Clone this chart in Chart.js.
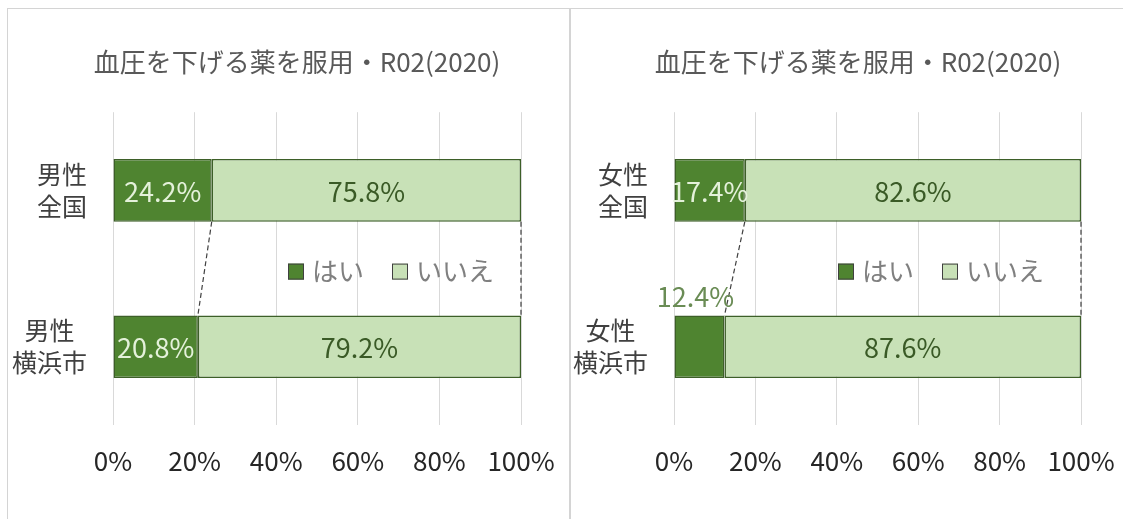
<!DOCTYPE html>
<html lang="ja">
<head>
  <meta charset="UTF-8">
  <title>血圧を下げる薬を服用・R02(2020)</title>
  <script src="https://cdn.jsdelivr.net/npm/chart.js@4.4.1/dist/chart.umd.min.js"></script>
  <style>
    body { margin: 0; background: #fff; width: 1123px; height: 519px; overflow: hidden; position: relative; }
    .panel { position: absolute; top: 8px; height: 520px; border-top: 1px solid #d4d4d4; border-left: 1px solid #d4d4d4; }
    #panelL { left: 7px; width: 561px; border-right: 1px solid #d4d4d4; }
    #panelR { left: 570px; width: 553px; }
    canvas { position: absolute; top: 9px; }
    #chartL { left: 8px; }
    #chartR { left: 571px; }
  </style>
</head>
<body>
  <div class="panel" id="panelL"></div>
  <div class="panel" id="panelR"></div>
  <canvas id="chartL" width="560" height="510"></canvas>
  <canvas id="chartR" width="552" height="510"></canvas>
  <script>
    const chartTitle = '血圧を下げる薬を服用・R02(2020)';
    const seriesNames = ['はい', 'いいえ'];
    const tickLabels = ['0%', '20%', '40%', '60%', '80%', '100%'];

    const maleCategories = [['男性', '全国'], ['男性', '横浜市']];
    const maleYes = [24.2, 20.8];
    const maleNo = [75.8, 79.2];

    const femaleCategories = [['女性', '全国'], ['女性', '横浜市']];
    const femaleYes = [17.4, 12.4];
    const femaleNo = [82.6, 87.6];

    const FONT = '"Noto Sans CJK JP", "Noto Sans", sans-serif';
    const DARK = '#4f8430';
    const LIGHT = '#c8e1b7';
    const EDGE = '#3d5f28';

    // category labels, dashed series lines, value labels and the inline legend
    const barExtras = {
      id: 'barExtras',
      afterDraw(chart, args, opts) {
        const ctx = chart.ctx;
        const area = chart.chartArea;
        const yScale = chart.scales.y;
        const metas = [chart.getDatasetMeta(0), chart.getDatasetMeta(1)];

        // category labels: block right-aligned, lines centred inside it
        ctx.save();
        ctx.font = '25px ' + FONT;
        ctx.fillStyle = '#404040';
        ctx.textBaseline = 'middle';
        ctx.textAlign = 'center';
        chart.data.labels.forEach((lines, i) => {
          const yc = yScale.getPixelForTick(i);
          const widest = Math.max(...lines.map(l => ctx.measureText(l).width));
          const cx = area.left - 26 - widest / 2;
          lines.forEach((l, k) => {
            ctx.fillText(l, cx, yc + (k - (lines.length - 1) / 2) * 32);
          });
        });
        ctx.restore();

        // dashed series lines between the two bars
        ctx.save();
        ctx.strokeStyle = '#404040';
        ctx.lineWidth = 1.2;
        ctx.setLineDash([5, 3]);
        metas.forEach(meta => {
          const a = meta.data[0], b = meta.data[1];
          ctx.beginPath();
          ctx.moveTo(a.x, a.y + a.height / 2);
          ctx.lineTo(b.x, b.y - b.height / 2);
          ctx.stroke();
        });
        ctx.restore();

        // value labels
        ctx.save();
        ctx.font = '27px ' + FONT;
        ctx.textAlign = 'center';
        ctx.textBaseline = 'middle';
        metas.forEach((meta, d) => {
          meta.data.forEach((el, i) => {
            const v = chart.data.datasets[d].data[i];
            const txt = v.toFixed(1) + '%';
            const w = Math.abs(el.x - el.base);
            const tw = ctx.measureText(txt).width;
            const cx = (el.x + el.base) / 2;
            if (tw > w + 12) {
              ctx.fillStyle = '#6a8c55';
              ctx.fillText(txt, cx - 4, el.y - el.height / 2 - 19);
            } else {
              ctx.fillStyle = d === 0 ? '#e4f1da' : '#3a5a26';
              ctx.fillText(txt, cx, el.y + 1);
            }
          });
        });
        ctx.restore();

        // legend drawn inside the plot between the bars
        ctx.save();
        ctx.font = '26px ' + FONT;
        ctx.textBaseline = 'middle';
        ctx.textAlign = 'left';
        const ly = (area.top + area.bottom) / 2 + 3;
        let lx = area.left + opts.legendX;
        chart.data.datasets.forEach((ds, d) => {
          ctx.fillStyle = ds.backgroundColor;
          ctx.fillRect(lx, ly - 8, 16, 16);
          ctx.strokeStyle = '#404040';
          ctx.lineWidth = 1;
          ctx.strokeRect(lx + 0.5, ly - 7.5, 15, 15);
          ctx.fillStyle = '#808080';
          ctx.fillText(ds.label, lx + 24, ly);
          lx += 24 + ctx.measureText(ds.label).width + 28;
        });
        ctx.restore();
      }
    };

    function makeChart(id, labels, yes, no, pad, legendX) {
      return new Chart(document.getElementById(id), {
        type: 'bar',
        data: {
          labels: labels,
          datasets: [
            { label: seriesNames[0], data: yes, backgroundColor: DARK, borderColor: EDGE, borderWidth: 1.5, borderSkipped: false },
            { label: seriesNames[1], data: no, backgroundColor: LIGHT, borderColor: EDGE, borderWidth: 1.5, borderSkipped: false }
          ]
        },
        options: {
          indexAxis: 'y',
          responsive: false,
          animation: false,
          barPercentage: 0.4,
          categoryPercentage: 1,
          layout: { padding: { left: pad.left, right: pad.right, top: 0, bottom: 0 } },
          plugins: {
            legend: { display: false },
            tooltip: { enabled: false },
            title: {
              display: true,
              text: chartTitle,
              color: '#595959',
              font: { family: FONT, size: 26, weight: 'normal', lineHeight: 1.2 },
              padding: { top: 38, bottom: 34 }
            },
            barExtras: { legendX: legendX }
          },
          scales: {
            x: {
              stacked: true,
              min: 0,
              max: 100,
              afterFit: axis => { axis.height = 94; },
              ticks: {
                stepSize: 20,
                padding: 0,
                color: '#262626',
                font: { family: FONT, size: 26 },
                callback: (v, i) => tickLabels[i]
              },
              // invisible tick marks push the labels down from the plot
              grid: { color: '#d9d9d9', drawTicks: true, tickLength: 21, tickColor: 'rgba(0,0,0,0)' },
              border: { display: false }
            },
            y: {
              stacked: true,
              afterFit: axis => { axis.width = pad.axis; },
              ticks: { display: false },
              grid: { display: false, drawTicks: false },
              border: { display: false }
            }
          }
        },
        plugins: [barExtras]
      });
    }

    makeChart('chartL', maleCategories, maleYes, maleNo, { left: 65, right: 47, axis: 40 }, 175);
    makeChart('chartR', femaleCategories, femaleYes, femaleNo, { left: 64, right: 42, axis: 39 }, 164);
  </script>
</body>
</html>
